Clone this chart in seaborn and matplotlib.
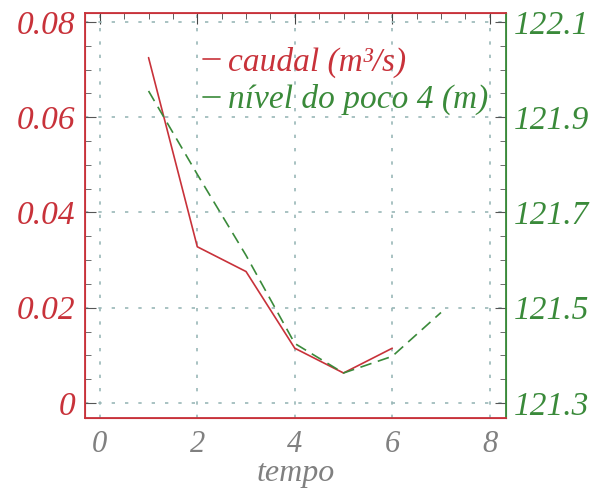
import numpy as np
import pandas as pd
import matplotlib
matplotlib.use("Agg")
import matplotlib.pyplot as plt
import seaborn as sns
from matplotlib.ticker import MultipleLocator

# data
tempo_caudal = [1, 2, 3, 4, 5, 6]
caudal = [0.0725, 0.0328, 0.0276, 0.0115, 0.0063, 0.0115]
tempo_nivel = [1, 2, 3, 4, 5, 6, 7]
nivel = [121.955, 121.78, 121.61, 121.425, 121.363, 121.398, 121.49]
left_ticks = [0, 0.02, 0.04, 0.06, 0.08]
right_ticks = [121.3, 121.5, 121.7, 121.9, 122.1]

red = "#c8323a"
green = "#3a8a3a"
gray = "#808080"

sns.set_style("white")
plt.rcParams["font.family"] = ["Liberation Serif", "DejaVu Serif"]
plt.rcParams["font.style"] = "italic"

df_c = pd.DataFrame({"tempo": tempo_caudal, "caudal": caudal})
df_n = pd.DataFrame({"tempo": tempo_nivel, "nivel": nivel})

fig, ax = plt.subplots(figsize=(6, 4.95), dpi=100)
fig.subplots_adjust(left=0.142, right=0.843, top=0.974, bottom=0.156)

sns.lineplot(data=df_c, x="tempo", y="caudal", ax=ax, color=red, lw=1.2,
             legend=False)
ax2 = ax.twinx()
sns.lineplot(data=df_n, x="tempo", y="nivel", ax=ax2, color=green, lw=1.2,
             linestyle=(0, (7, 4)), legend=False)

ax.set_xlim(-0.3, 8.33)
ax.set_ylim(-0.0031, 0.0819)
ax2.set_ylim(121.269, 122.119)

ax.xaxis.set_major_locator(MultipleLocator(2))
ax.xaxis.set_minor_locator(MultipleLocator(0.5))
ax.yaxis.set_minor_locator(MultipleLocator(0.005))
ax2.yaxis.set_minor_locator(MultipleLocator(0.05))

ax.set_yticks(left_ticks)
ax.set_yticklabels([f"{v:g}" for v in left_ticks])
ax2.set_yticks(right_ticks)
ax2.set_yticklabels([f"{v:.1f}" for v in right_ticks])

ax.grid(True, color="#9ab8b8", linestyle=(0, (2, 6)), lw=1.2)
ax.set_axisbelow(True)

ax.tick_params(axis="x", which="both", direction="in", labelcolor=gray,
               color="#444444", labelsize=22, top=True, pad=9)
ax.tick_params(axis="x", which="major", length=8)
ax.tick_params(axis="x", which="minor", length=4)
ax.tick_params(axis="y", which="both", direction="in", labelcolor=red,
               color="#555555", labelsize=24, pad=7)
ax.tick_params(axis="y", which="major", length=8)
ax.tick_params(axis="y", which="minor", length=4)
ax2.tick_params(axis="y", which="both", direction="in", labelcolor=green,
                color="#555555", labelsize=24, pad=6)
ax2.tick_params(axis="y", which="major", length=8)
ax2.tick_params(axis="y", which="minor", length=4)

for s in ["left", "top", "bottom"]:
    ax.spines[s].set_color(red)
    ax2.spines[s].set_color(red)
ax2.spines["right"].set_color(green)
ax.spines["right"].set_color(green)
for s in ax2.spines.values():
    s.set_linewidth(1.3)

ax.set_xlabel("tempo", fontsize=23, color=gray, labelpad=0)
ax.set_ylabel("")
ax2.set_ylabel("")

handles = [plt.Line2D([], [], color=red, lw=1.2),
           plt.Line2D([], [], color=green, lw=1.2)]
leg = ax.legend(handles, ["caudal (m³/s)", "nível do poco 4 (m)"],
                loc="upper left", bbox_to_anchor=(0.225, 0.975), frameon=False,
                fontsize=24, handlelength=0.5, handletextpad=0.25,
                labelspacing=0.2, labelcolor=[red, green],
                borderaxespad=0.3)

fig.savefig("out.png", dpi=100)
